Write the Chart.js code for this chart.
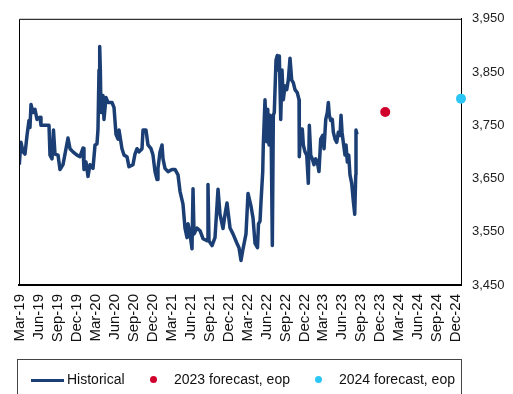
<!DOCTYPE html>
<html>
<head>
<meta charset="utf-8">
<script src="https://cdn.jsdelivr.net/npm/chart.js@4.4.0/dist/chart.umd.min.js"></script>
<style>
  html, body { margin: 0; padding: 0; background: #fff; }
  #wrap { position: relative; width: 513px; height: 394px; overflow: hidden; font-family: "Liberation Sans", Arial, sans-serif; }
  #chart { position: absolute; left: 0; top: 0; }
  #legend { position: absolute; left: 17px; top: 359px; width: 445px; height: 44px; border: 1px solid #444; box-sizing: border-box; }
  .item { position: absolute; top: 11px; font-size: 14px; color: #111; line-height: 16px; white-space: nowrap; }
  .swatch-line { position: absolute; height: 3px; top: 8px; }
  .swatch-dot { position: absolute; width: 7px; height: 7px; border-radius: 50%; top: 5px; }
</style>
</head>
<body>
<div id="wrap">
  <canvas id="chart" width="513" height="394"></canvas>
  <div id="legend"></div>
</div>
<script>
// Quarterly tick labels (x = months since Mar-2019)
const tickLabels = ['Mar-19','Jun-19','Sep-19','Dec-19','Mar-20','Jun-20','Sep-20','Dec-20',
  'Mar-21','Jun-21','Sep-21','Dec-21','Mar-22','Jun-22','Sep-22','Dec-22',
  'Mar-23','Jun-23','Sep-23','Dec-23','Mar-24','Jun-24','Sep-24','Dec-24'];
const yTicks = [3450, 3550, 3650, 3750, 3850, 3950];

// Historical series: month offsets from Mar-2019 and values
const histX = [0.05,0.24,0.32,0.63,0.95,1.27,1.58,1.74,1.90,2.22,2.53,2.85,3.33,3.48,4.75,4.91,5.23,5.46,5.70,6.18,
  6.49,6.97,7.44,7.76,8.08,8.55,9.19,9.66,10.14,10.29,10.61,10.93,11.24,11.72,12.04,12.35,12.51,12.67,12.78,12.88,
  12.99,13.30,13.46,13.78,14.10,14.73,15.05,15.36,15.68,15.84,16.31,16.63,17.10,17.42,18.05,18.37,18.69,19.01,19.48,19.64,
  20.11,20.43,20.91,21.22,21.54,21.86,22.01,22.33,22.65,22.81,23.12,23.60,24.23,24.71,25.18,25.50,25.97,26.29,26.61,26.77,
  27.08,27.40,27.56,27.72,28.19,28.67,29.14,29.78,29.93,30.09,30.57,31.04,31.52,31.83,32.31,32.63,32.94,33.42,33.89,34.53,
  34.84,35.16,35.48,35.95,36.27,36.74,37.06,37.38,37.77,37.93,38.17,38.33,38.60,38.69,38.96,39.12,39.23,39.39,39.60,39.75,
  39.91,40.12,40.28,40.43,40.70,40.91,41.07,41.23,41.45,41.65,41.86,42.13,42.40,42.65,42.92,43.19,43.44,43.71,44.08,44.35,
  44.39,44.62,44.87,45.03,45.30,45.57,45.82,45.98,46.20,46.45,46.72,46.99,47.24,47.51,47.78,48.10,48.31,48.58,48.83,48.99,
  49.14,49.37,49.62,49.78,50.05,50.32,50.57,50.84,51.00,51.16,51.36,51.63,51.79,52.00,52.22,52.42,52.69,52.95,53.17,53.33,
  53.37,53.53];
const histY = [3676,3709,3718,3700,3696,3731,3759,3746,3789,3774,3780,3761,3765,3750,3750,3694,3687,3741,3696,3694,
  3667,3676,3706,3726,3706,3700,3694,3691,3707,3667,3681,3654,3676,3669,3713,3715,3743,3854,3898,3854,
  3774,3806,3761,3802,3793,3793,3783,3733,3724,3741,3706,3694,3691,3672,3676,3696,3706,3700,3706,3741,
  3741,3713,3706,3694,3663,3648,3669,3700,3713,3687,3669,3663,3667,3667,3657,3626,3602,3557,3539,3565,
  3546,3518,3631,3546,3557,3552,3537,3533,3639,3533,3524,3539,3630,3583,3556,3583,3604,3557,3546,3528,
  3520,3496,3518,3546,3622,3598,3576,3528,3520,3565,3570,3607,3663,3713,3798,3750,3719,3780,3713,3769,
  3761,3524,3769,3774,3872,3881,3854,3880,3761,3854,3798,3824,3817,3835,3876,3835,3830,3817,3811,3798,
  3691,3743,3743,3713,3700,3694,3641,3750,3694,3687,3676,3687,3681,3663,3724,3731,3706,3761,3774,3793,
  3769,3759,3761,3737,3724,3718,3737,3731,3769,3737,3718,3694,3713,3681,3694,3657,3641,3607,3583,3657,
  3741,3733];

// Forecasts (end of period)
const fc2023X = [58];
const fc2023Y = [3775];
const fc2024X = [70];
const fc2024Y = [3800];

const seriesNames = ['Historical', '2023 forecast, eop', '2024 forecast, eop'];
const colors = ['#1b3f74', '#d0002c', '#2bc6f6'];

const zip = (xs, ys) => xs.map((x, i) => ({ x: x, y: ys[i] }));

const frame = {
  id: 'frame',
  afterDraw(chart) {
    const a = chart.chartArea, c = chart.ctx;
    c.save();
    c.strokeStyle = '#000';
    c.lineWidth = 1;
    c.beginPath();
    c.moveTo(a.left + 0.5, a.bottom);
    c.lineTo(a.left + 0.5, a.top + 0.5);
    c.lineTo(a.right, a.top + 0.5);
    c.stroke();
    c.restore();
  }
};

const FONT = '"Liberation Sans", Arial, sans-serif';

const chart = new Chart(document.getElementById('chart'), {
  type: 'scatter',
  data: {
    datasets: [
      { label: seriesNames[0], data: zip(histX, histY), showLine: true, borderColor: colors[0], backgroundColor: colors[0],
        borderWidth: 3.5, pointRadius: 0, tension: 0, order: 2, borderJoinStyle: 'round' },
      { label: seriesNames[1], data: zip(fc2023X, fc2023Y), pointRadius: 5, backgroundColor: colors[1], borderColor: colors[1],
        borderWidth: 0, order: 1 },
      { label: seriesNames[2], data: zip(fc2024X, fc2024Y), pointRadius: 5, backgroundColor: colors[2], borderColor: colors[2],
        borderWidth: 0, order: 1, clip: false }
    ]
  },
  options: {
    responsive: false,
    animation: false,
    layout: { padding: { left: 19, top: 15, right: 0, bottom: 40 } },
    plugins: { legend: { display: false }, tooltip: { enabled: false } },
    scales: {
      x: {
        type: 'linear', min: 0, max: 70,
        grid: { display: false, drawTicks: false },
        border: { display: true, color: '#000', width: 2 },
        afterBuildTicks: (s) => { s.ticks = tickLabels.map((_, i) => ({ value: i * 3 + 0.2 })); },
        afterFit: (s) => { s.height = 69; },
        ticks: {
          autoSkip: false, minRotation: 90, maxRotation: 90, padding: 9,
          color: '#111', font: { family: FONT, size: 15 },
          callback: (v) => tickLabels[Math.round(v / 3)]
        }
      },
      y: {
        position: 'right', min: 3450, max: 3950,
        grid: { display: false, drawTicks: false },
        border: { display: true, color: '#000', width: 1 },
        afterBuildTicks: (s) => { s.ticks = yTicks.map(v => ({ value: v })); },
        afterFit: (s) => { s.width = 52; },
        ticks: {
          padding: 11, color: '#222', font: { family: FONT, size: 13 },
          callback: (v) => v.toLocaleString('en-US')
        }
      }
    }
  },
  plugins: [frame]
});

// HTML legend built from the datasets
const legend = document.getElementById('legend');
const legendPos = [{ sw: 13, tx: 49 }, { sw: 132, tx: 156 }, { sw: 297, tx: 321 }];
chart.data.datasets.forEach((ds, i) => {
  const it = document.createElement('div');
  it.className = 'item';
  it.style.left = legendPos[i].sw + 'px';
  const sw = document.createElement('span');
  if (i === 0) {
    sw.className = 'swatch-line';
    sw.style.left = '0px'; sw.style.width = '33px';
  } else {
    sw.className = 'swatch-dot';
    sw.style.left = '0px';
  }
  sw.style.background = ds.backgroundColor;
  it.appendChild(sw);
  const tx = document.createElement('span');
  tx.textContent = ds.label;
  tx.style.position = 'relative';
  tx.style.left = (legendPos[i].tx - legendPos[i].sw) + 'px';
  it.appendChild(tx);
  legend.appendChild(it);
});
</script>
</body>
</html>
